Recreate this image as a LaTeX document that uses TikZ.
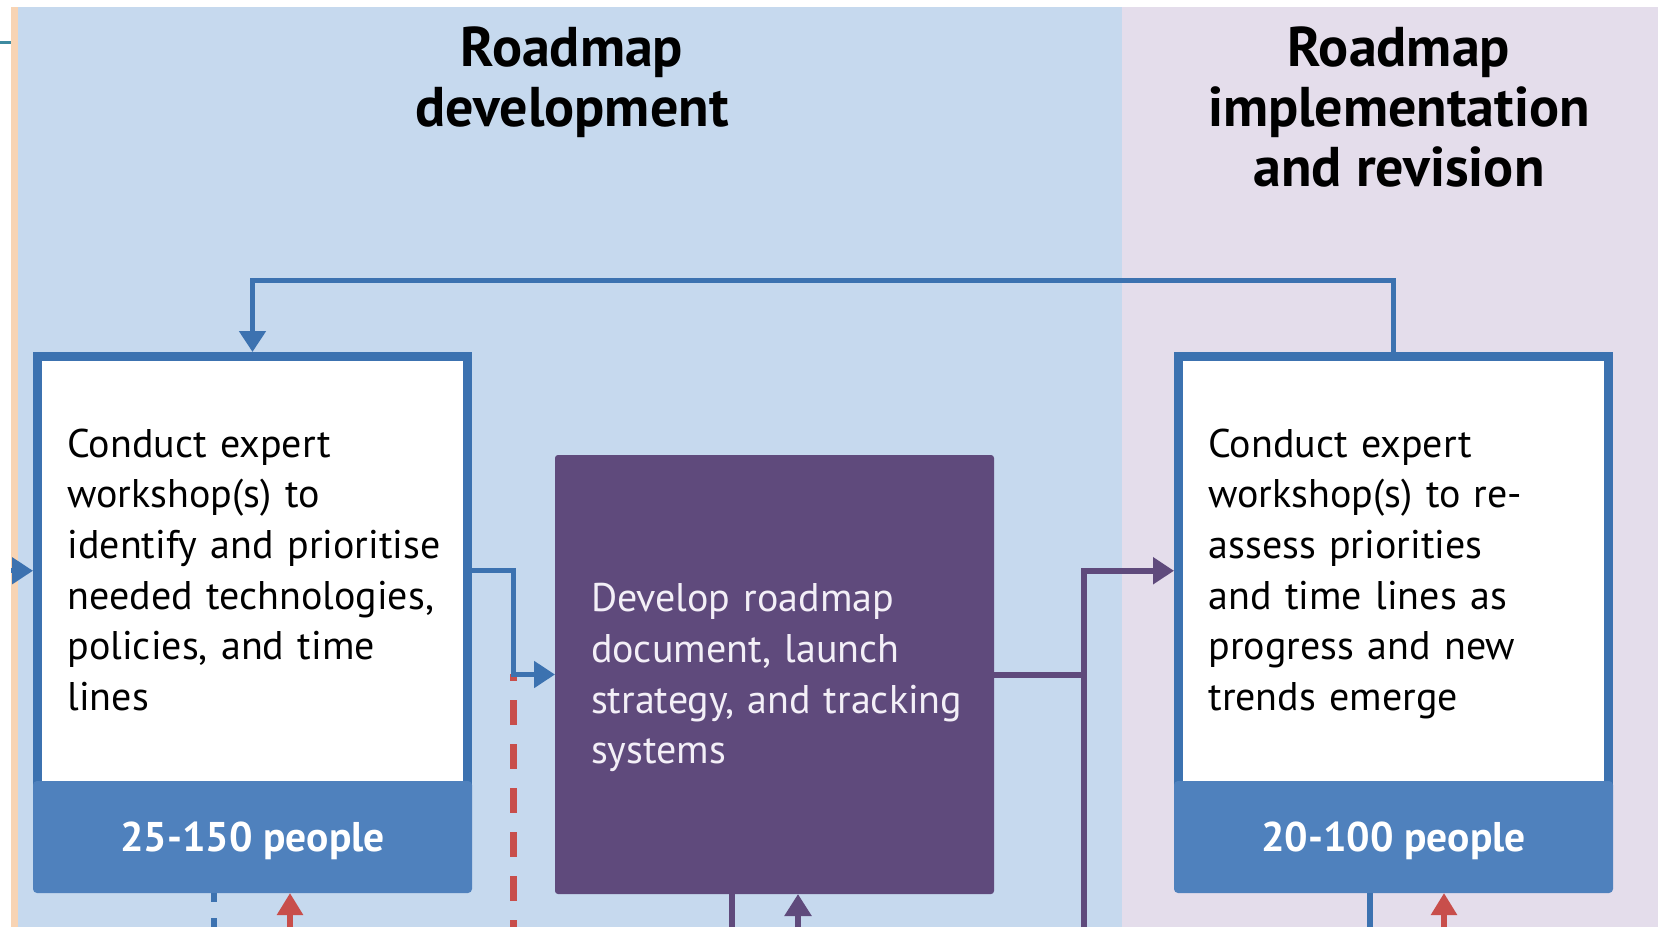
\documentclass[tikz,border=0pt]{standalone}
\usepackage{fontspec}
\setmainfont{PT Sans}
\usetikzlibrary{arrows.meta}
\definecolor{bgblue}{HTML}{C6D9EE}
\definecolor{bgpink}{HTML}{E4DDEB}
\definecolor{bgorange}{HTML}{F8D4B4}
\definecolor{bdblue}{HTML}{3C72B0}
\definecolor{bandblue}{HTML}{4F81BD}
\definecolor{purp}{HTML}{5F4A7C}
\definecolor{redc}{HTML}{C84E4B}
\definecolor{tealc}{HTML}{3D8AA0}
\definecolor{paletxt}{HTML}{F3EFF7}
\newcommand{\boxlines}[1]{\vspace*{-6pt}\begin{tabular}{@{}l@{}}#1\end{tabular}}
\tikzset{
  whitebox/.style={draw=bdblue, line width=9pt, fill=white, outer sep=4.5pt,
    minimum width=430pt, minimum height=428.5pt, inner xsep=30pt, inner ysep=0pt,
    text width=370pt, align=left, anchor=north west,
    font=\fontsize{40}{50.7}\selectfont},
  bandbox/.style={fill=bandblue, rounded corners=4pt, outer sep=0pt,
    minimum width=439pt, minimum height=112pt, anchor=north west, inner sep=0pt,
    text depth=0pt, text=white, font=\fontsize{41.5}{48}\selectfont\bfseries},
  purpbox/.style={fill=purp, rounded corners=3pt, outer sep=0pt,
    minimum width=439pt, minimum height=439pt, inner xsep=36pt, inner ysep=0pt,
    text width=367pt, align=left, anchor=north west, text=paletxt,
    font=\fontsize{40}{50.7}\selectfont},
  titletext/.style={align=center, font=\fontsize{56}{60}\selectfont\bfseries, text=black},
  blueline/.style={draw=bdblue, line width=5pt},
  purpline/.style={draw=purp, line width=6pt},
  tipblue/.style={-{Triangle[length=21pt,width=26pt]}},
  redarrow/.style={draw=redc, line width=6pt, -{Triangle[length=22pt,width=25pt]}},
  reddash/.style={draw=redc, line width=7pt, dash pattern=on 25pt off 19pt, dash phase=18pt},
  bluedash/.style={draw=bdblue, line width=6pt, dash pattern=on 25pt off 16pt, dash phase=16pt},
}
\begin{document}
\begin{tikzpicture}[x=1pt,y=-1pt]
\useasboundingbox (0,0) rectangle (1660,927);
% backgrounds
\fill[white] (0,0) rectangle (1660,927);
\fill[bgorange] (11,7) rectangle (18,927);
\fill[bgblue] (18,7) rectangle (1122,927);
\fill[bgpink] (1122,7) rectangle (1658,927);
\draw[tealc, line width=3pt] (0,42) -- (11,42);
% titles
\node[titletext] (t1) at (572,82) {Roadmap\\development};
\node[titletext] (t2) at (1399,107) {Roadmap\\implementation\\and revision};
% red dashed line (under blue arrow)
\coordinate (rdtop) at (513,674);
\coordinate (rdbot) at (513,927);
\draw[reddash] (rdtop) -- (rdbot);
% boxes
\node[whitebox] (lb) at (33,352) {\boxlines{Conduct expert\\workshop(s) to\\identify and prioritise\\needed technologies,\\policies, and time\\lines}};
\node[bandbox] (lbb) at (33,781) {25-150 people};
\node[purpbox] (pb) at (555,455) {\boxlines{Develop roadmap\\document, launch\\strategy, and tracking\\systems}};
\node[whitebox] (rb) at (1174,352) {\boxlines{Conduct expert\\workshop(s) to re-\\assess priorities\\and time lines as\\progress and new\\trends emerge}};
\node[bandbox] (rbb) at (1174,781) {20-100 people};
% top feedback connector
\draw[blueline, tipblue] (rb.north) -- ++(0,-72) -| (lb.north);
% incoming arrow on left
\coordinate (lin) at (11,570.75);
\draw[blueline, tipblue] (lin) -- (lb.west);
% left box -> purple box
\draw[blueline, tipblue] (lb.east) -- ++(41,0) |- (pb.west);
% purple box -> right box
\coordinate (pvbot) at (1084,927);
\draw[purpline] (pb.east) -- (pb.east -| pvbot);
\draw[purpline, -{Triangle[length=21pt,width=26pt]}] (pvbot) |- (rb.west);
% purple box bottom
\coordinate (pdown) at (732,927);
\coordinate (pup) at (798,927);
\draw[purpline] (pdown |- pb.south) -- (pdown);
\draw[purpline, -{Triangle[length=22pt,width=26pt]}] (pup) -- (pup |- pb.south);
% left box bottom
\coordinate (ldown) at (214,927);
\coordinate (lup) at (290,927);
\draw[bluedash] (ldown |- lbb.south) -- (ldown);
\draw[redarrow] (lup) -- (lup |- lbb.south);
% right box bottom
\coordinate (rdown) at (1370,927);
\coordinate (rup) at (1444,927);
\draw[blueline, line width=6pt] (rdown |- rbb.south) -- (rdown);
\draw[redarrow] (rup) -- (rup |- rbb.south);
\end{tikzpicture}
\end{document}
